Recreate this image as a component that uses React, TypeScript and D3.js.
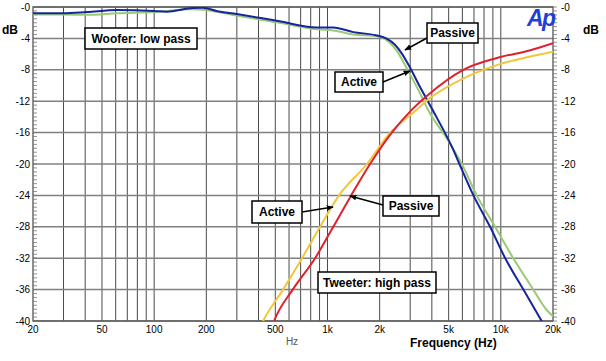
import React from "react";
import * as d3 from "d3";

// ---- data (frequency in Hz, level in dB) ----
const wooferPassiveF = [20, 30, 41, 61, 100, 118, 168, 190, 229, 299, 510, 867, 1080, 1410, 1900, 2180, 2450, 2680, 2990, 3420, 3990, 5320, 5770, 6950, 8670, 10600, 13500, 17200, 20000];
const wooferPassiveDb = [-0.8, -0.8, -0.64, -0.38, -0.5, -0.6, -0.13, -0.1, -0.5, -0.9, -1.75, -2.6, -2.6, -3.2, -3.6, -4.0, -4.8, -5.9, -7.7, -10.2, -12.9, -18.2, -20, -24, -28, -32, -36, -40, -42.5];

const wooferActiveF = [20, 30, 41, 61, 100, 168, 229, 299, 510, 867, 1080, 1410, 1900, 2150, 2510, 2930, 3420, 3800, 4970, 5960, 7260, 9270, 11800, 15400, 18400, 20000];
const wooferActiveDb = [-0.95, -0.95, -1.0, -0.8, -0.65, -0.3, -0.6, -1.1, -1.95, -2.85, -3.0, -3.5, -3.7, -4.1, -5.6, -8.2, -11.0, -13.1, -17, -20, -24, -28, -32, -36, -38.6, -39.4];

const tweeterActiveF = [400, 425, 554, 713, 906, 1166, 1690, 2300, 3270, 3800, 6080, 9480, 14800, 20000];
const tweeterActiveDb = [-41.2, -40, -36, -32, -28, -24, -20, -16, -13.1, -11.8, -9.1, -7.4, -6.3, -5.7];

const tweeterPassiveF = [470, 492, 630, 848, 1080, 1370, 1760, 2350, 3060, 3800, 6080, 9480, 14800, 20000];
const tweeterPassiveDb = [-41.2, -40, -36, -32, -28, -24, -20, -16, -13.1, -11.2, -8, -6.5, -5.5, -4.6];

const dbTicks = [0, -4, -8, -12, -16, -20, -24, -28, -32, -36, -40];
const dbTickLabels = ["-0", "-4", "-8", "-12", "-16", "-20", "-24", "-28", "-32", "-36", "-40"];
const freqTicks = [20, 50, 100, 200, 500, 1000, 2000, 5000, 10000, 20000];
const freqTickLabels = ["20", "50", "100", "200", "500", "1k", "2k", "5k", "10k", "20k"];

const FONT = "Arial, 'Liberation Sans', sans-serif";

export default function App() {
  const W = 606, H = 361;
  const x = d3.scaleLog().domain([20, 20000]).range([33, 553]);
  const y = d3.scaleLinear().domain([0, -40]).range([7, 321]);

  const gridF: number[] = [];
  [10, 100, 1000, 10000].forEach((dec) => {
    for (let k = 1; k <= 9; k++) {
      const f = dec * k;
      if (f > 20 && f < 20000) gridF.push(f);
    }
  });
  const minorDb: number[] = [];
  for (let d = 0; d >= -40; d -= 0.5) minorDb.push(d);

  const line = d3
    .line<[number, number]>()
    .x((d) => x(d[0]))
    .y((d) => y(d[1]))
    .curve(d3.curveMonotoneX);

  const series = [
    { f: wooferActiveF, v: wooferActiveDb, color: "#9acb74" },
    { f: wooferPassiveF, v: wooferPassiveDb, color: "#16259e" },
    { f: tweeterActiveF, v: tweeterActiveDb, color: "#f2c63a" },
    { f: tweeterPassiveF, v: tweeterPassiveDb, color: "#e0202c" },
  ];

  const boxes = [
    { label: "Woofer: low pass", x0: 85, y0: 28, x1: 197, y1: 49 },
    { label: "Passive", x0: 427, y0: 23, x1: 478, y1: 43 },
    { label: "Active", x0: 335, y0: 72, x1: 383, y1: 92 },
    { label: "Active", x0: 252, y0: 201, x1: 302, y1: 223 },
    { label: "Passive", x0: 383, y0: 196, x1: 439, y1: 216 },
    { label: "Tweeter: high pass", x0: 318, y0: 272, x1: 436, y1: 293 },
  ];
  const arrows = [
    { x0: 427, y0: 38, x1: 405, y1: 50 },
    { x0: 383, y0: 82, x1: 410, y1: 71 },
    { x0: 302, y0: 212, x1: 333, y1: 207 },
    { x0: 383, y0: 205, x1: 350, y1: 196 },
  ];

  return (
    <svg width={W} height={H} style={{ position: "absolute", left: 0, top: 0, background: "#fff" }} fontFamily={FONT}>
      <defs>
        <clipPath id="plot">
          <rect x={33} y={7} width={520} height={314} />
        </clipPath>
        <marker id="ah" viewBox="0 0 10 10" refX="9" refY="5" markerWidth="7" markerHeight="7" orient="auto" markerUnits="userSpaceOnUse">
          <path d="M0,1 L10,5 L0,9 z" fill="#000" />
        </marker>
      </defs>
      <rect x={0} y={0} width={W} height={H} fill="#fff" />
      {/* grid */}
      {gridF.map((f) => (
        <line key={"v" + f} x1={x(f)} x2={x(f)} y1={y(0)} y2={y(-40)} stroke="#4a4a4a" strokeWidth={1} />
      ))}
      {dbTicks.map((d) => (
        <line key={"h" + d} x1={x(20)} x2={x(20000)} y1={y(d)} y2={y(d)} stroke="#808080" strokeWidth={1.5} />
      ))}
      <rect x={x(20)} y={y(0)} width={x(20000) - x(20)} height={y(-40) - y(0)} fill="none" stroke="#555" strokeWidth={1.3} />
      {minorDb.map((d) => (
        <g key={"m" + d}>
          <line x1={x(20)} x2={x(20) + 4} y1={y(d)} y2={y(d)} stroke="#777" strokeWidth={0.8} />
          <line x1={x(20000)} x2={x(20000) + 4} y1={y(d)} y2={y(d)} stroke="#777" strokeWidth={0.8} />
        </g>
      ))}
      {/* curves */}
      <g clipPath="url(#plot)">
        {series.map((s, i) => (
          <path
            key={i}
            d={line(s.f.map((f, j) => [f, s.v[j]] as [number, number])) || ""}
            fill="none"
            stroke={s.color}
            strokeWidth={2}
            strokeLinejoin="round"
          />
        ))}
      </g>
      {/* axis labels */}
      {dbTicks.map((d, i) => (
        <g key={"l" + d}>
          <text x={30} y={y(d)} dy="0.35em" textAnchor="end" fontSize={10}>{dbTickLabels[i]}</text>
          <text x={561} y={y(d)} dy="0.35em" textAnchor="start" fontSize={10}>{dbTickLabels[i]}</text>
        </g>
      ))}
      {freqTicks.map((f, i) => (
        <text key={"f" + f} x={x(f)} y={333} textAnchor="middle" fontSize={10}>{freqTickLabels[i]}</text>
      ))}
      <text x={10} y={34} textAnchor="middle" fontSize={12} fontWeight="bold">dB</text>
      <text x={591} y={34} textAnchor="middle" fontSize={12} fontWeight="bold">dB</text>
      <text x={292} y={345} textAnchor="middle" fontSize={10} fill="#555">Hz</text>
      <text x={410} y={347} textAnchor="start" fontSize={12} fontWeight="bold">Frequency (Hz)</text>
      <text x={527} y={26} fontSize={23} fontWeight="bold" fontStyle="italic" fill="#1f3fd8" letterSpacing={-1.5}>Ap</text>
      {/* annotation boxes */}
      {boxes.map((b, i) => (
        <g key={"b" + i}>
          <rect x={b.x0} y={b.y0} width={b.x1 - b.x0} height={b.y1 - b.y0} fill="#fff" stroke="#000" strokeWidth={1.5} />
          <text x={(b.x0 + b.x1) / 2} y={(b.y0 + b.y1) / 2} dy="0.36em" textAnchor="middle" fontSize={12} fontWeight="bold">{b.label}</text>
        </g>
      ))}
      {arrows.map((a, i) => (
        <line key={"a" + i} x1={a.x0} y1={a.y0} x2={a.x1} y2={a.y1} stroke="#000" strokeWidth={1.5} markerEnd="url(#ah)" />
      ))}
    </svg>
  );
}
